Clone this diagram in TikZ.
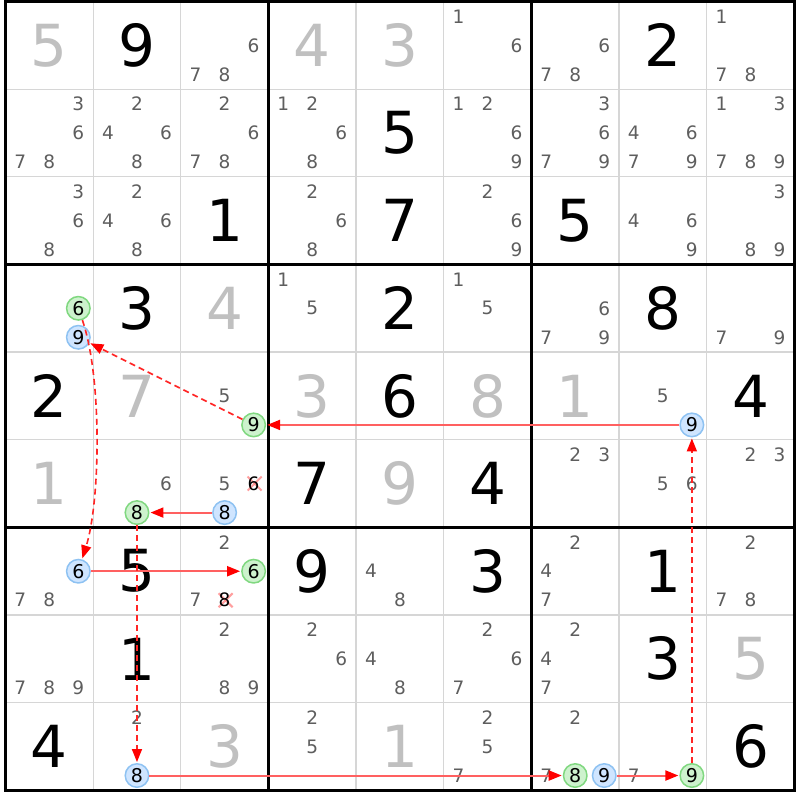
\documentclass[tikz,border=0pt]{standalone}
\usepackage{fontspec}
\setmainfont{DejaVu Sans}
\usetikzlibrary{arrows.meta}
\definecolor{candc}{HTML}{5E5E5E}
\definecolor{solvedc}{HTML}{C0C0C0}
\definecolor{gridc}{HTML}{D6D6D6}
\definecolor{grfill}{HTML}{CDF2CD}
\definecolor{grline}{HTML}{80D880}
\definecolor{blfill}{HTML}{CFE5FF}
\definecolor{blline}{HTML}{8EC2F2}
\definecolor{strongc}{HTML}{FF6060}
\definecolor{weakc}{HTML}{FF2525}
\tikzset{
 given/.style={font=\fontsize{58}{58}\selectfont, text=black, inner sep=0pt},
 solved/.style={given, text=solvedc},
 cand/.style={font=\fontsize{18.5}{18.5}\selectfont, text=candc, inner sep=0pt},
 hlg/.style={circle, draw=grline, fill=grfill, line width=1.5pt, minimum size=23.5pt, inner sep=0pt, font=\fontsize{19}{19}\selectfont, text=black},
 hlb/.style={hlg, draw=blline, fill=blfill},
 elimx/.style={draw=red!50, line width=2pt, opacity=0.75},
 strong/.style={draw=strongc, line width=2pt, -{Triangle[length=13pt,width=10pt,color=red]}, shorten >=1pt},
 weak/.style={strong, draw=weakc, line width=1.6pt, dash pattern=on 6pt off 4pt},
 thin grid/.style={draw=gridc, line width=1.3pt},
 thick grid/.style={draw=black, line width=3pt},
}
\newcommand\sgiven[3]{\node[given] (g#1#2) at ({5.5+(#2+0.5)*87.65},{1.5+(#1+0.5)*87.65}) {#3};}
\newcommand\ssolved[3]{\node[solved] (g#1#2) at ({5.5+(#2+0.5)*87.65},{1.5+(#1+0.5)*87.65}) {#3};}
\newcommand\scand[3]{\node[cand] (c#1#2d#3) at ({5.5+(#2+0.5)*87.65+(mod(#3-1,3)-1)*29},{1.5+(#1+0.5)*87.65+(floor((#3-1)/3)-1)*29}) {#3};}
\newcommand\scands[3]{\foreach \dd in {#3}{\scand{#1}{#2}{\dd}}}
\newcommand\shl[4]{\node[#1] (h#2#3d#4) at ({5.5+(#3+0.5)*87.65+(mod(#4-1,3)-1)*29},{1.5+(#2+0.5)*87.65+(floor((#4-1)/3)-1)*29}) {#4};}
\newcommand\selim[3]{%
 \coordinate (x#1#2d#3) at ({5.5+(#2+0.5)*87.65+(mod(#3-1,3)-1)*29},{1.5+(#1+0.5)*87.65+(floor((#3-1)/3)-1)*29});
 \draw[elimx] ([shift={(-6,-7)}]x#1#2d#3) -- ([shift={(8,7)}]x#1#2d#3);
 \draw[elimx] ([shift={(-6,7)}]x#1#2d#3) -- ([shift={(8,-7)}]x#1#2d#3);
 \node[cand, text=black] (e#1#2d#3) at (x#1#2d#3) {#3};}
\begin{document}
\begin{tikzpicture}[x=1pt,y=-1pt]
\useasboundingbox (0,0) rectangle (800,800);
\fill[white] (0,0) rectangle (800,800);
% grid
\foreach \i in {1,2,4,5,7,8}{
 \draw[thin grid] ({5.5+\i*87.65},1.5) -- ({5.5+\i*87.65},790.35);
 \draw[thin grid] (5.5,{1.5+\i*87.65}) -- (794.35,{1.5+\i*87.65});
}
\foreach \i in {0,3,6,9}{
 \draw[thick grid] ({5.5+\i*87.65},0) -- ({5.5+\i*87.65},791.85);
 \draw[thick grid] (4,{1.5+\i*87.65}) -- (795.85,{1.5+\i*87.65});
}
% givens
\sgiven{0}{1}{9}\sgiven{0}{7}{2}\sgiven{1}{4}{5}\sgiven{2}{2}{1}\sgiven{2}{4}{7}\sgiven{2}{6}{5}
\sgiven{3}{1}{3}\sgiven{3}{4}{2}\sgiven{3}{7}{8}\sgiven{4}{0}{2}\sgiven{4}{4}{6}\sgiven{4}{8}{4}
\sgiven{5}{3}{7}\sgiven{5}{5}{4}\sgiven{6}{1}{5}\sgiven{6}{3}{9}\sgiven{6}{5}{3}\sgiven{6}{7}{1}
\sgiven{7}{1}{1}\sgiven{7}{7}{3}\sgiven{8}{0}{4}\sgiven{8}{8}{6}
% solved
\ssolved{0}{0}{5}\ssolved{0}{3}{4}\ssolved{0}{4}{3}\ssolved{3}{2}{4}\ssolved{4}{1}{7}\ssolved{4}{3}{3}
\ssolved{4}{5}{8}\ssolved{4}{6}{1}\ssolved{5}{0}{1}\ssolved{5}{4}{9}\ssolved{7}{8}{5}\ssolved{8}{2}{3}\ssolved{8}{4}{1}
% candidates
\scands{0}{2}{6,7,8}\scands{0}{5}{1,6}\scands{0}{6}{6,7,8}\scands{0}{8}{1,7,8}
\scands{1}{0}{3,6,7,8}\scands{1}{1}{2,4,6,8}\scands{1}{2}{2,6,7,8}\scands{1}{3}{1,2,6,8}\scands{1}{5}{1,2,6,9}
\scands{1}{6}{3,6,7,9}\scands{1}{7}{4,6,7,9}\scands{1}{8}{1,3,7,8,9}
\scands{2}{0}{3,6,8}\scands{2}{1}{2,4,6,8}\scands{2}{3}{2,6,8}\scands{2}{5}{2,6,9}\scands{2}{7}{4,6,9}\scands{2}{8}{3,8,9}
\scands{3}{3}{1,5}\scands{3}{5}{1,5}\scands{3}{6}{6,7,9}\scands{3}{8}{7,9}
\scand{4}{2}{5}\scand{4}{7}{5}
\scand{5}{1}{6}\scand{5}{2}{5}\scands{5}{6}{2,3}\scands{5}{7}{5,6}\scands{5}{8}{2,3}
\scands{6}{0}{7,8}\scands{6}{2}{2,7}\scands{6}{4}{4,8}\scands{6}{6}{2,4,7}\scands{6}{8}{2,7,8}
\scands{7}{0}{7,8,9}\scands{7}{2}{2,8,9}\scands{7}{3}{2,6}\scands{7}{4}{4,8}\scands{7}{5}{2,6,7}\scands{7}{6}{2,4,7}
\scand{8}{1}{2}\scands{8}{3}{2,5}\scands{8}{5}{2,5,7}\scands{8}{6}{2,7}\scand{8}{7}{7}
% eliminated
\selim{5}{2}{6}\selim{6}{2}{8}
% highlighted
\shl{hlg}{3}{0}{6}\shl{hlb}{3}{0}{9}
\shl{hlg}{4}{2}{9}\shl{hlb}{4}{7}{9}
\shl{hlg}{5}{1}{8}\shl{hlb}{5}{2}{8}
\shl{hlb}{6}{0}{6}\shl{hlg}{6}{2}{6}
\shl{hlb}{8}{1}{8}\shl{hlg}{8}{6}{8}\shl{hlb}{8}{6}{9}\shl{hlg}{8}{7}{9}
% links
\draw[strong] (h47d9) -- (h42d9);
\draw[weak] (h42d9) -- (h30d9);
\draw[weak] (h30d6) .. controls +(24,70) and +(22,-70) .. (h60d6);
\draw[strong] (h60d6) -- (h62d6);
\draw[strong] (h52d8) -- (h51d8);
\draw[weak] (h51d8) -- (h81d8);
\draw[strong] (h81d8) -- (h86d8);
\draw[strong] (h86d9) -- (h87d9);
\draw[weak] (h87d9) -- (h47d9);
\end{tikzpicture}
\end{document}
